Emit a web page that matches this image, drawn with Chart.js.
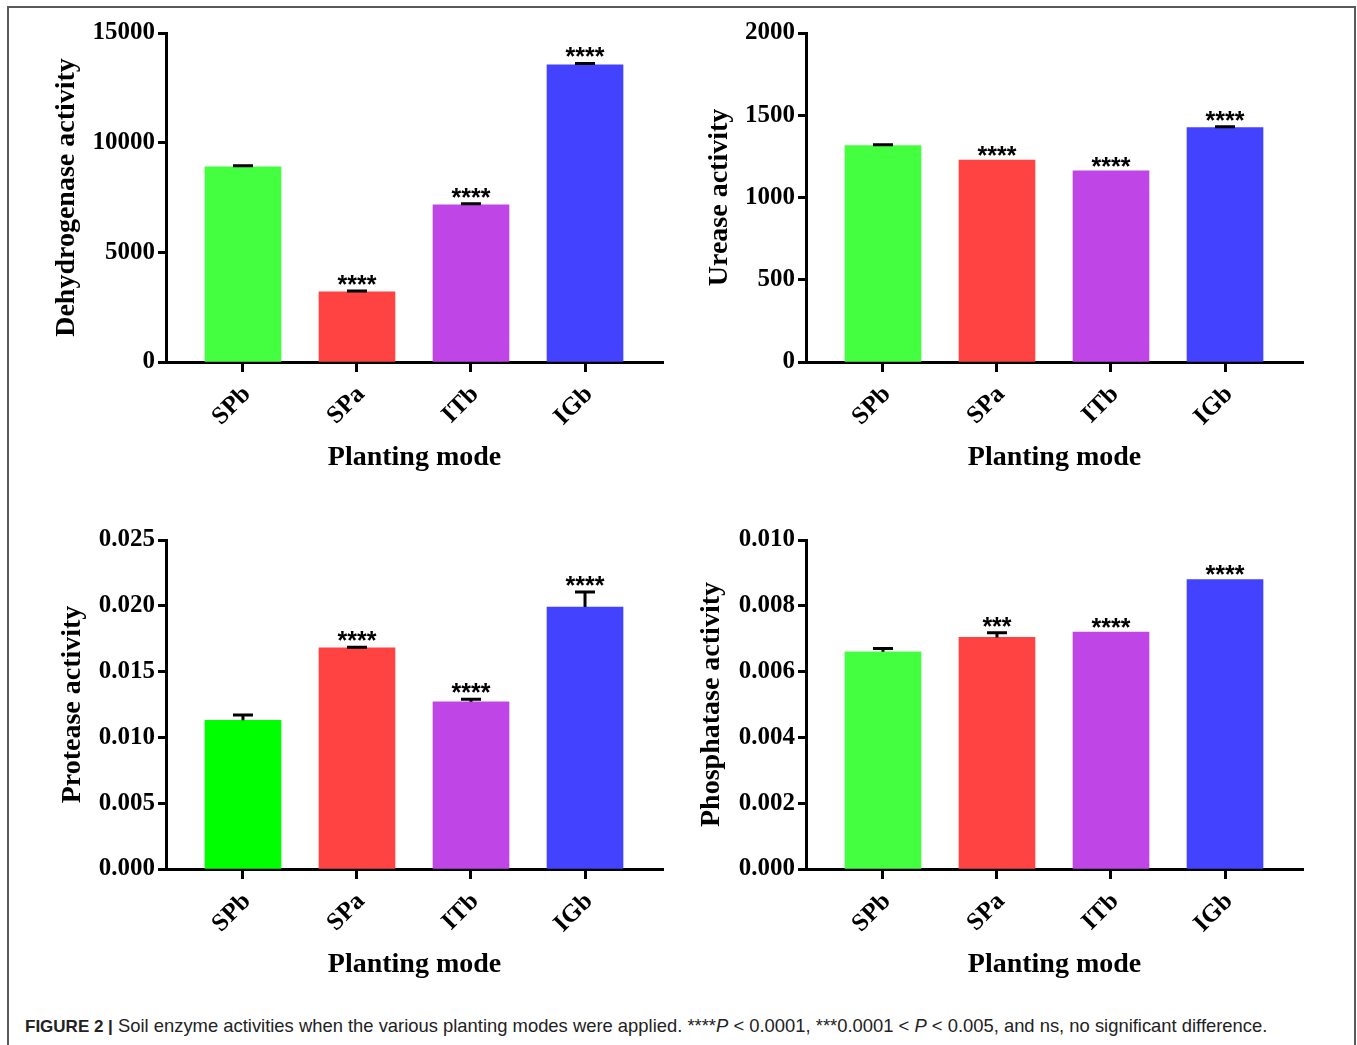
<!DOCTYPE html>
<html>
<head>
<meta charset="utf-8">
<script src="https://cdn.jsdelivr.net/npm/chart.js@4.4.0/dist/chart.umd.min.js"></script>
<style>
  html, body { margin: 0; padding: 0; background: #fff; overflow: hidden; }
  body { width: 1357px; height: 1045px; position: relative; }
  .frame { position: absolute; left: 7px; top: 6px; width: 1349px; height: 1080px; border: 2px solid #5a5a5a; box-sizing: border-box; }
  .panel { position: absolute; width: 680px; height: 490px; }
  .caption { position: absolute; left: 25px; top: 1015px; font-family: "Liberation Sans", Arial, sans-serif; font-size: 18.4px; color: #222; white-space: nowrap; }
  .caption b { font-weight: bold; font-size: 17px; }
</style>
</head>
<body>
<div class="frame"></div>
<div class="panel" style="left:0px;top:0px"><canvas id="c1"></canvas></div>
<div class="panel" style="left:640px;top:0px"><canvas id="c2"></canvas></div>
<div class="panel" style="left:0px;top:507px"><canvas id="c3"></canvas></div>
<div class="panel" style="left:640px;top:507px"><canvas id="c4"></canvas></div>
<div class="caption"><b>FIGURE 2 |</b> Soil enzyme activities when the various planting modes were applied. ****<i>P</i> &lt; 0.0001, ***0.0001 &lt; <i>P</i> &lt; 0.005, and ns, no significant difference.</div>
<script>
const categories = ["SPb", "SPa", "ITb", "IGb"];

const dehydrogenase = [8900, 3200, 7170, 13550];
const dehydrogenaseErr = [50, 40, 50, 60];
const dehydrogenaseSig = ["", "****", "****", "****"];
const dehydrogenaseTicks = [0, 5000, 10000, 15000];

const urease = [1315, 1228, 1162, 1425];
const ureaseErr = [6, 0, 0, 5];
const ureaseSig = ["", "****", "****", "****"];
const ureaseTicks = [0, 500, 1000, 1500, 2000];

const protease = [0.0113, 0.0168, 0.0127, 0.0199];
const proteaseErr = [0.0004, 0.00005, 0.0002, 0.00115];
const proteaseSig = ["", "****", "****", "****"];
const proteaseTicks = [0, 0.005, 0.01, 0.015, 0.02, 0.025];

const phosphatase = [0.0066, 0.00704, 0.0072, 0.0088];
const phosphataseErr = [0.0001, 0.00014, 0, 0];
const phosphataseSig = ["", "***", "****", "****"];
const phosphataseTicks = [0, 0.002, 0.004, 0.006, 0.008, 0.01];

const serif = "'Liberation Serif', 'Times New Roman', serif";
const sans = "'Liberation Sans', Arial, sans-serif";

// error bars (upper only) and significance stars
const errorBars = {
  id: "errorBars",
  afterDatasetsDraw(chart, args, opts) {
    const ctx = chart.ctx;
    const y = chart.scales.y;
    const meta = chart.getDatasetMeta(0);
    const vals = chart.data.datasets[0].data;
    ctx.save();
    meta.data.forEach((bar, i) => {
      const v = vals[i].y;
      const e = opts.err[i];
      let top = y.getPixelForValue(v);
      if (e > 0) {
        const yt = y.getPixelForValue(v + e);
        ctx.strokeStyle = "#000";
        ctx.lineWidth = 3;
        ctx.beginPath();
        ctx.moveTo(bar.x, top);
        ctx.lineTo(bar.x, yt);
        ctx.moveTo(bar.x - 10, yt);
        ctx.lineTo(bar.x + 10, yt);
        ctx.stroke();
        top = yt - 2;
      }
      if (opts.sig[i]) {
        ctx.fillStyle = "#000";
        ctx.font = "bold 25px " + sans;
        ctx.textAlign = "center";
        ctx.textBaseline = "alphabetic";
        ctx.fillText(opts.sig[i], bar.x, top + 4);
      }
    });
    ctx.restore();
  }
};

function makePanel(id, values, err, sig, ticks, yTitle, decimals, colors, titleX) {
  const cv = document.getElementById(id);
  cv.width = 680;
  cv.height = 490;
  new Chart(cv, {
    type: "bar",
    data: {
      datasets: [{
        data: values.map((v, i) => ({ x: i, y: v })),
        backgroundColor: colors,
        barThickness: 76,
        borderWidth: 0
      }]
    },
    options: {
      responsive: false,
      animation: false,
      layout: { padding: { left: 0, top: 33, right: 17, bottom: 0 } },
      plugins: {
        legend: { display: false },
        tooltip: { enabled: false },
        errorBars: { err: err, sig: sig }
      },
      scales: {
        x: {
          type: "linear",
          min: -0.675,
          max: 3.684,
          offset: false,
          grid: { offset: false, drawOnChartArea: false, drawTicks: true, tickLength: 10, tickWidth: 3, tickColor: "#000", color: "#000" },
          border: { display: true, color: "#000", width: 3 },
          afterBuildTicks: (s) => { s.ticks = categories.map((c, i) => ({ value: i })); },
          afterFit: (s) => { s.height = 128; },
          ticks: {
            autoSkip: false,
            minRotation: 45,
            maxRotation: 45,
            padding: 8,
            labelOffset: 4,
            color: "#000",
            font: { family: serif, size: 25, weight: "bold" },
            callback: (v) => categories[v]
          },
          title: {
            display: true,
            text: "Planting mode",
            color: "#000",
            font: { family: serif, size: 28, weight: "bold" },
            padding: { top: 0, bottom: 15 }
          }
        },
        y: {
          min: ticks[0],
          max: ticks[ticks.length - 1],
          grid: { drawOnChartArea: false, drawTicks: true, tickLength: 8, tickWidth: 3, tickColor: "#000", color: "#000" },
          border: { display: true, color: "#000", width: 3 },
          afterBuildTicks: (s) => { s.ticks = ticks.map(t => ({ value: t })); },
          afterFit: (s) => { s.width = 166; },
          ticks: {
            padding: 3,
            color: "#000",
            font: { family: serif, size: 25, weight: "bold" },
            callback: (v) => v.toFixed(decimals)
          },
          title: {
            display: true,
            text: yTitle,
            color: "#000",
            font: { family: serif, size: 28, weight: "bold" },
            padding: { top: titleX - 17, bottom: 0 }
          }
        }
      }
    },
    plugins: [errorBars]
  });
}

const fourColors = ["#44ff40", "#ff4242", "#c045e6", "#4242ff"];
const proteaseColors = ["#00ff00", "#ff4242", "#c045e6", "#4242ff"];

makePanel("c1", dehydrogenase, dehydrogenaseErr, dehydrogenaseSig, dehydrogenaseTicks, "Dehydrogenase activity", 0, fourColors, 67);
makePanel("c2", urease, ureaseErr, ureaseSig, ureaseTicks, "Urease activity", 0, fourColors, 80);
makePanel("c3", protease, proteaseErr, proteaseSig, proteaseTicks, "Protease activity", 3, proteaseColors, 73);
makePanel("c4", phosphatase, phosphataseErr, phosphataseSig, phosphataseTicks, "Phosphatase activity", 3, fourColors, 72);
</script>
</body>
</html>
